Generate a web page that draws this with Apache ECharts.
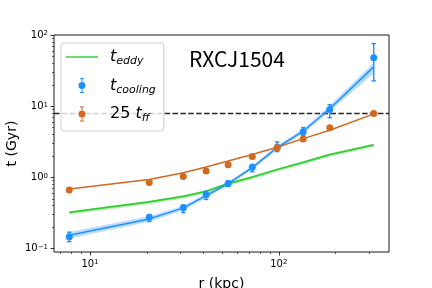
<!DOCTYPE html>
<html><head><meta charset="utf-8">
<script src="https://cdn.jsdelivr.net/npm/echarts@6/dist/echarts.min.js"></script>
<style>html,body{margin:0;padding:0;background:#fff}#c{width:432px;height:288px}</style>
</head><body><div id="c"></div>
<script>
// radii (kpc)
const r = [7.77, 20.6, 31.2, 41.2, 53.9, 72.3, 98.0, 134.5, 186, 318];
// cooling time data points with error bars
const tCool   = [0.147, 0.275, 0.373, 0.568, 0.818, 1.39, 2.65, 4.36, 8.97, 47.8];
const tCoolLo = [0.125, 0.240, 0.320, 0.490, 0.750, 1.20, 2.30, 3.90, 6.90, 22.7];
const tCoolHi = [0.170, 0.300, 0.410, 0.640, 0.890, 1.52, 3.15, 5.00, 10.5, 75.8];
// cooling time model line and band
const tCoolFit   = [0.154, 0.261, 0.373, 0.555, 0.818, 1.37, 2.62, 4.45, 9.2, 35.7];
const tCoolFitLo = [0.138, 0.238, 0.345, 0.515, 0.770, 1.29, 2.45, 4.15, 8.5, 28.7];
const tCoolFitHi = [0.171, 0.285, 0.400, 0.595, 0.870, 1.45, 2.80, 4.80, 10.2, 41.0];
// 25 t_ff points and line
const tff    = [0.667, 0.845, 1.03, 1.23, 1.51, 1.96, 2.60, 3.47, 4.96, 7.88];
const tffFit = [0.689, 0.931, 1.16, 1.40, 1.70, 2.09, 2.65, 3.50, 4.60, 7.80];
// eddy turnover time line and band
const tEddy   = [0.323, 0.453, 0.542, 0.638, 0.818, 1.01, 1.29, 1.63, 2.09, 2.86];
const tEddyLo = [0.300, 0.420, 0.505, 0.595, 0.765, 0.945, 1.20, 1.52, 1.95, 2.67];
const tEddyHi = [0.335, 0.470, 0.560, 0.660, 0.845, 1.045, 1.33, 1.69, 2.17, 2.97];
// horizontal reference
const hLine = 7.9;
// axes
const xMin = 6.45, xMax = 383;
const yMin = 0.0895, yMax = 100;
const xMajor = [10, 100];
const xMinor = [7, 8, 9, 20, 30, 40, 50, 60, 70, 80, 90, 200, 300];
const yMajor = [0.1, 1, 10, 100];
const yMinor = [0.2,0.3,0.4,0.5,0.6,0.7,0.8,0.9,2,3,4,5,6,7,8,9,20,30,40,50,60,70,80,90];
const title = 'RXCJ1504';
const legendNames = ['t_eddy', 't_cooling', '25 t_ff'];
const legendRich = {
  't_eddy': '{t|t}{s|eddy}',
  't_cooling': '{t|t}{s|cooling}',
  '25 t_ff': '{n|25 }{t|t}{s|ff}'
};

const BLUE = '#1E90FF', ORANGE = '#D2691E', GREEN = '#32CD32';
const FONT = 'DejaVu Sans';

function zip(a, b) { return a.map((v, i) => [v, b[i]]); }
function expLabel(v) {
  const e = Math.round(Math.log10(v));
  return '10{s|' + (e < 0 ? '\u2212' + (-e) : e) + '}';
}
function bandSeries(name, lo, hi, fill, z) {
  return {
    type: 'custom', name: name, silent: true, z: z,
    xAxisIndex: 0, yAxisIndex: 0,
    data: [[r[0], lo[0]]],
    renderItem: function (params, api) {
      const pts = [];
      for (let i = 0; i < r.length; i++) pts.push(api.coord([r[i], hi[i]]));
      for (let i = r.length - 1; i >= 0; i--) pts.push(api.coord([r[i], lo[i]]));
      return { type: 'polygon', shape: { points: pts }, style: { fill: fill } };
    }
  };
}
function errSeries(name, lo, hi, color, z) {
  return {
    type: 'custom', name: name, silent: true, z: z,
    xAxisIndex: 0, yAxisIndex: 0,
    data: r.map((x, i) => [x, lo[i], hi[i]]),
    encode: { x: 0, y: [1, 2] },
    renderItem: function (params, api) {
      const x = api.value(0);
      const a = api.coord([x, api.value(1)]);
      const b = api.coord([x, api.value(2)]);
      const cw = 2.2;
      const st = { stroke: color, lineWidth: 1.4 };
      return { type: 'group', children: [
        { type: 'line', shape: { x1: a[0], y1: a[1], x2: b[0], y2: b[1] }, style: st },
        { type: 'line', shape: { x1: a[0] - cw, y1: a[1], x2: a[0] + cw, y2: a[1] }, style: st },
        { type: 'line', shape: { x1: b[0] - cw, y1: b[1], x2: b[0] + cw, y2: b[1] }, style: st }
      ]};
    }
  };
}
const errIcon = 'path://M3,0L4,0L4,15L3,15Z M1.5,0L5.5,0L5.5,1L1.5,1Z M1.5,14L5.5,14L5.5,15L1.5,15Z M0,7.5A3.5,3.5,0,1,1,7,7.5A3.5,3.5,0,1,1,0,7.5Z';
const lineIcon = 'path://M0,0L32,0L32,1.8L0,1.8Z';

const chart = echarts.init(document.getElementById('c'), null, { renderer: 'canvas' });
const tickLabelStyle = {
  fontFamily: FONT, fontSize: 10, color: '#000',
  rich: { s: { fontFamily: FONT, fontSize: 7, color: '#000', verticalAlign: 'top' } }
};
chart.setOption({
  animation: false,
  backgroundColor: '#fff',
  title: {
    text: title, left: 189, top: 49, padding: 0,
    textStyle: { fontFamily: '"Noto Sans CJK JP"', fontSize: 21, fontWeight: 'normal', color: '#000' }
  },
  grid: { left: 54, right: 43, top: 35, bottom: 36, show: true, borderColor: '#1a1a1a', borderWidth: 1,
          backgroundColor: 'transparent', containLabel: false, outerBoundsMode: 'none' },
  legend: {
    orient: 'vertical', left: 61, top: 43,
    padding: [6, 8, 7, 5],
    itemWidth: 32, itemHeight: 15, itemGap: 10.5,
    backgroundColor: 'rgba(255,255,255,0.8)', borderColor: '#cccccc', borderWidth: 1, borderRadius: 3,
    data: [
      { name: legendNames[0], icon: lineIcon, itemStyle: { color: GREEN, opacity: 0.8 } },
      { name: legendNames[1], icon: errIcon },
      { name: legendNames[2], icon: errIcon }
    ],
    formatter: function (name) { return legendRich[name]; },
    textStyle: {
      padding: [0, 0, 0, 7],
      rich: {
        t: { fontFamily: FONT, fontStyle: 'italic', fontSize: 16, lineHeight: 20, color: '#000' },
        n: { fontFamily: FONT, fontSize: 16, lineHeight: 20, color: '#000' },
        s: { fontFamily: FONT, fontStyle: 'italic', fontSize: 11, lineHeight: 10, verticalAlign: 'bottom', color: '#000' }
      }
    }
  },
  xAxis: [
    {
      type: 'log', logBase: 10, min: xMin, max: xMax, position: 'bottom',
      axisLine: { show: false },
      axisTick: { show: true, length: 3.5, customValues: xMajor, lineStyle: { color: '#000', width: 0.8 } },
      axisLabel: Object.assign({ customValues: xMajor, margin: 7, formatter: expLabel }, tickLabelStyle),
      splitLine: { show: false },
      name: 'r (kpc)', nameLocation: 'middle', nameGap: 25, nameMoveOverlap: false,
      nameTextStyle: { fontFamily: FONT, fontSize: 14, color: '#000', verticalAlign: 'top' }
    },
    {
      type: 'log', logBase: 10, min: xMin, max: xMax, position: 'bottom', offset: 0,
      axisLine: { show: false },
      axisTick: { show: true, length: 2, customValues: xMinor, lineStyle: { color: '#000', width: 0.6 } },
      axisLabel: { show: false },
      splitLine: { show: false }
    }
  ],
  yAxis: [
    {
      type: 'log', logBase: 10, min: yMin, max: yMax, position: 'left',
      axisLine: { show: false },
      axisTick: { show: true, length: 3.5, customValues: yMajor, lineStyle: { color: '#000', width: 0.8 } },
      axisLabel: Object.assign({ customValues: yMajor, margin: 6, formatter: expLabel }, tickLabelStyle),
      splitLine: { show: false },
      name: 't (Gyr)', nameLocation: 'middle', nameGap: 35, nameMoveOverlap: false,
      nameTextStyle: { fontFamily: FONT, fontSize: 14, color: '#000' }
    },
    {
      type: 'log', logBase: 10, min: yMin, max: yMax, position: 'left', offset: 0,
      axisLine: { show: false },
      axisTick: { show: true, length: 2, customValues: yMinor, lineStyle: { color: '#000', width: 0.6 } },
      axisLabel: { show: false },
      splitLine: { show: false }
    }
  ],
  series: [
    {
      type: 'line', name: 'hline', z: 1, silent: true, symbol: 'none',
      data: [[xMin, hLine], [xMax, hLine]],
      lineStyle: { color: '#262626', width: 1.5, type: [5.5, 2.4] }
    },
    bandSeries('eddyBand', tEddyLo, tEddyHi, 'rgba(50,205,50,0.3)', 2),
    {
      type: 'line', name: legendNames[0], z: 3, symbol: 'none', showSymbol: false,
      data: zip(r, tEddy),
      itemStyle: { color: GREEN },
      lineStyle: { color: GREEN, width: 1.8 }
    },
    bandSeries('coolBand', tCoolFitLo, tCoolFitHi, 'rgba(30,144,255,0.3)', 4),
    {
      type: 'line', name: 'coolFit', z: 5, symbol: 'none', showSymbol: false, silent: true,
      data: zip(r, tCoolFit),
      lineStyle: { color: BLUE, width: 1.5 }
    },
    errSeries('coolErr', tCoolLo, tCoolHi, BLUE, 6),
    {
      type: 'scatter', name: legendNames[1], z: 7, symbol: 'circle', symbolSize: 7,
      data: zip(r, tCool),
      itemStyle: { color: BLUE, opacity: 1 }
    },
    {
      type: 'line', name: 'tffFit', z: 8, symbol: 'none', showSymbol: false, silent: true,
      data: zip(r, tffFit),
      lineStyle: { color: ORANGE, width: 1.5 }
    },
    {
      type: 'scatter', name: legendNames[2], z: 9, symbol: 'circle', symbolSize: 7,
      data: zip(r, tff),
      itemStyle: { color: ORANGE, opacity: 1 }
    }
  ]
});
</script>
</body></html>
